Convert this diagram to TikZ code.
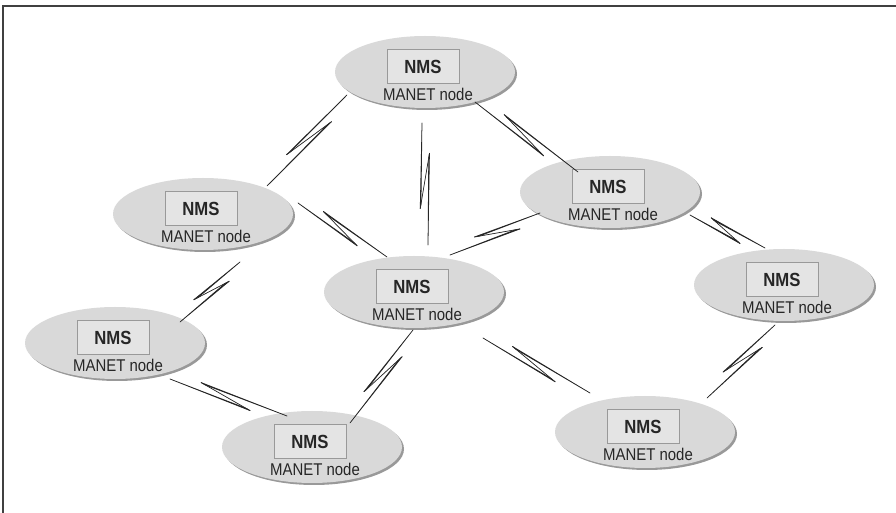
\documentclass[tikz,border=0pt]{standalone}
\usepackage{fontspec}
\setmainfont{Liberation Sans}[FakeStretch=0.88]
\usetikzlibrary{shapes.geometric,shadows,calc}

\definecolor{ellgray}{HTML}{D9D9D9}
\definecolor{boxgray}{HTML}{E4E4E4}

\tikzset{
    manet/.style={ellipse, fill=ellgray, minimum width=90pt, minimum height=36pt, inner sep=0pt,
        drop shadow={shadow xshift=1pt, shadow yshift=-1pt, fill=black!40, opacity=1}},
    nmsbox/.style={draw=black!40, fill=boxgray, line width=0.5pt, minimum width=36pt, minimum height=17pt,
        font=\fontsize{9.5}{10}\selectfont\bfseries, text=black!85},
    nodetext/.style={font=\fontsize{8.5}{10}\selectfont, text=black!85, inner sep=0pt},
    boltline/.style={draw=black!85, fill=black!50, line width=0.35pt, line join=round}
}

% lightning link between two points
\newcommand{\bolt}[2]{%
    \coordinate (ba) at (#1);
    \coordinate (bb) at (#2);
    \coordinate (p1) at ($(ba)!0.7!(bb)!3pt!-90:(bb)$);
    \coordinate (p2) at ($(ba)!0.25!(bb)!3pt!90:(bb)$);
    \filldraw[boltline] (ba) -- (p1) -- ($(p1)!2.4pt!(p2)$) -- cycle;
    \draw[boltline] (p1) -- (p2);
    \filldraw[boltline] (bb) -- (p2) -- ($(p2)!2.4pt!(p1)$) -- cycle;
}

\begin{document}
\begin{tikzpicture}[x=0.5pt, y=-0.5pt]
    \useasboundingbox (0,0) rectangle (896,513);
    \draw[line width=1pt, black!75] (3,513) -- (3,6) -- (896,6);

    \foreach \name/\x/\y in {n1/425/72, n2/610/192, n3/203/214, n4/414/292,
                             n5/784/285, n6/115/343, n7/312/447, n8/645/432} {
        \node[manet] (\name) at (\x,\y) {};
        \node[nmsbox] (\name-box) at ($(\name)+(-2,-5)$) {NMS};
        \node[nodetext] (\name-txt) at ($(\name)+(3,22)$) {MANET node};
    }

    \bolt{$(n1)+(-78,23)$}{$(n3)+(64,-28)$}
    \bolt{$(n1)+(-3,51)$}{$(n4)+(14,-47)$}
    \bolt{$(n1)+(50,30)$}{$(n2)+(-32,-20)$}
    \bolt{$(n3)+(95,-11)$}{$(n4)+(-27,-35)$}
    \bolt{$(n2)+(-70,21)$}{$(n4)+(36,-37)$}
    \bolt{$(n2)+(80,23)$}{$(n5)+(-19,-37)$}
    \bolt{$(n3)+(37,48)$}{$(n6)+(65,-21)$}
    \bolt{$(n4)+(-1,38)$}{$(n7)+(38,-24)$}
    \bolt{$(n4)+(69,46)$}{$(n8)+(-55,-39)$}
    \bolt{$(n5)+(-9,40)$}{$(n8)+(62,-34)$}
    \bolt{$(n6)+(55,36)$}{$(n7)+(-25,-31)$}
\end{tikzpicture}
\end{document}
